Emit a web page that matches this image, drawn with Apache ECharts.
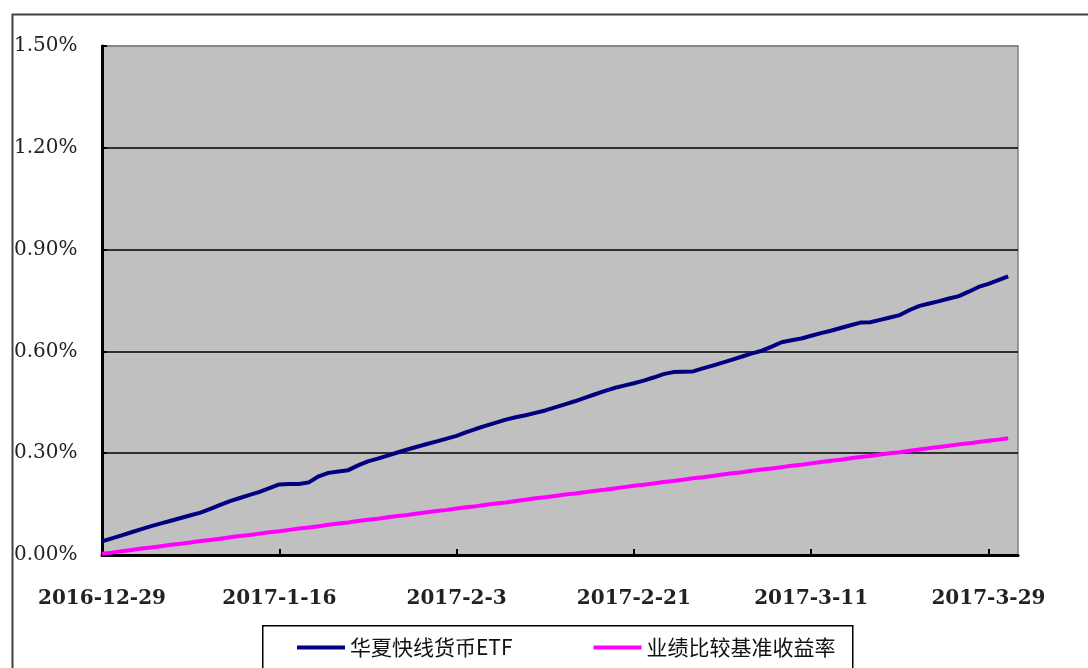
<!DOCTYPE html>
<html>
<head>
<meta charset="utf-8">
<script src="https://cdn.jsdelivr.net/npm/echarts@6/dist/echarts.min.js"></script>
<style>
html,body{margin:0;padding:0;background:#fff;}
#c{width:1088px;height:668px;}
</style>
</head>
<body>
<div id="c"></div>
<script>
// Dates on the category axis (daily), 2016-12-29 .. 2017-4-1
var categories = [
"2016-12-29","2016-12-30","2016-12-31",
"2017-1-1","2017-1-2","2017-1-3","2017-1-4","2017-1-5","2017-1-6","2017-1-7","2017-1-8","2017-1-9","2017-1-10",
"2017-1-11","2017-1-12","2017-1-13","2017-1-14","2017-1-15","2017-1-16","2017-1-17","2017-1-18","2017-1-19","2017-1-20",
"2017-1-21","2017-1-22","2017-1-23","2017-1-24","2017-1-25","2017-1-26","2017-1-27","2017-1-28","2017-1-29","2017-1-30","2017-1-31",
"2017-2-1","2017-2-2","2017-2-3","2017-2-4","2017-2-5","2017-2-6","2017-2-7","2017-2-8","2017-2-9","2017-2-10",
"2017-2-11","2017-2-12","2017-2-13","2017-2-14","2017-2-15","2017-2-16","2017-2-17","2017-2-18","2017-2-19","2017-2-20",
"2017-2-21","2017-2-22","2017-2-23","2017-2-24","2017-2-25","2017-2-26","2017-2-27","2017-2-28",
"2017-3-1","2017-3-2","2017-3-3","2017-3-4","2017-3-5","2017-3-6","2017-3-7","2017-3-8","2017-3-9","2017-3-10",
"2017-3-11","2017-3-12","2017-3-13","2017-3-14","2017-3-15","2017-3-16","2017-3-17","2017-3-18","2017-3-19","2017-3-20",
"2017-3-21","2017-3-22","2017-3-23","2017-3-24","2017-3-25","2017-3-26","2017-3-27","2017-3-28","2017-3-29","2017-3-30","2017-3-31",
"2017-4-1"
];

// Series names
var seriesNames = ["华夏快线货币ETF", "业绩比较基准收益率"];

// Cumulative return of the fund (%), 2016-12-29 .. 2017-3-31
var fundReturn = [
0.040,0.049,0.058,0.067,0.076,0.085,0.093,0.101,0.109,0.117,
0.125,0.136,0.148,0.159,0.168,0.177,0.186,0.197,0.208,0.209,
0.209,0.214,0.232,0.242,0.246,0.250,0.264,0.276,0.284,0.293,
0.302,0.311,0.319,0.327,0.335,0.343,0.351,0.362,0.372,0.381,
0.390,0.399,0.406,0.412,0.419,0.426,0.435,0.444,0.453,0.463,
0.473,0.483,0.492,0.499,0.506,0.514,0.523,0.533,0.539,0.540,
0.541,0.550,0.558,0.567,0.576,0.585,0.594,0.602,0.614,0.627,
0.633,0.638,0.646,0.654,0.661,0.669,0.677,0.685,0.686,0.693,
0.700,0.707,0.722,0.734,0.741,0.748,0.756,0.763,0.776,0.790,
0.799,0.810,0.821
];

// Cumulative benchmark return (%), 2016-12-29 .. 2017-3-31
var benchReturn = [
0.004,0.007,0.011,0.015,0.019,0.022,0.026,0.030,0.033,0.037,
0.041,0.044,0.048,0.052,0.056,0.059,0.063,0.067,0.070,0.074,
0.078,0.081,0.085,0.089,0.093,0.096,0.100,0.104,0.107,0.111,
0.115,0.118,0.122,0.126,0.130,0.133,0.137,0.141,0.144,0.148,
0.152,0.155,0.159,0.163,0.167,0.170,0.174,0.178,0.181,0.185,
0.189,0.192,0.196,0.200,0.204,0.207,0.211,0.215,0.218,0.222,
0.226,0.229,0.233,0.237,0.241,0.244,0.248,0.252,0.255,0.259,
0.263,0.266,0.270,0.274,0.278,0.281,0.285,0.289,0.292,0.296,
0.300,0.303,0.307,0.311,0.315,0.318,0.322,0.326,0.329,0.333,
0.337,0.340,0.344
];

// Y axis range (%)
var yMin = 0, yMax = 1.5, yStep = 0.3;

var chart = echarts.init(document.getElementById('c'), null, {renderer: 'canvas'});
chart.setOption({
  backgroundColor: '#ffffff',
  animation: false,
  graphic: [
    {type: 'rect', left: 10, top: 12, shape: {x: 0, y: 0, width: 1100, height: 700},
     style: {fill: 'none', stroke: '#404040', lineWidth: 2}, z: -10},
    {type: 'rect', left: 262, top: 625, shape: {x: 0, y: 0, width: 590, height: 60},
     style: {fill: '#ffffff', stroke: '#000000', lineWidth: 1.5}, z: -5}
  ],
  grid: {
    left: 102, top: 46, right: 70, bottom: 113,
    show: true, backgroundColor: '#c0c0c0', borderColor: '#808080', borderWidth: 1.5
  },
  legend: {
    left: 292, top: 632,
    icon: 'rect', itemWidth: 48, itemHeight: 4, itemGap: 81, itemTextGap: 3,
    textStyle: {fontFamily: 'Noto Sans CJK SC', fontSize: 21, color: '#111'},
    data: seriesNames
  },
  xAxis: {
    type: 'category',
    data: categories,
    boundaryGap: false,
    axisLine: {lineStyle: {color: '#000', width: 3}},
    axisTick: {inside: true, length: 6, interval: 17, lineStyle: {color: '#000', width: 2}},
    axisLabel: {interval: 17, margin: 34, color: '#222',
      fontFamily: 'DejaVu Serif', fontSize: 20, fontWeight: 'bold'},
    splitLine: {show: false}
  },
  yAxis: {
    type: 'value',
    min: yMin, max: yMax, interval: yStep,
    axisLine: {show: true, lineStyle: {color: '#000', width: 3}},
    axisTick: {show: true, inside: true, length: 5, lineStyle: {color: '#000', width: 2}},
    axisLabel: {align: 'left', margin: 88, color: '#222',
      fontFamily: 'DejaVu Serif', fontSize: 20,
      formatter: function (v) { return v.toFixed(2) + '%'; }},
    splitLine: {show: true, lineStyle: {color: ['#000','#000','#000','#000','#000','#808080'], width: 1.5}}
  },
  series: [
    {name: seriesNames[0], type: 'line', data: fundReturn, showSymbol: false,
     lineStyle: {color: '#000080', width: 4}, itemStyle: {color: '#000080'}},
    {name: seriesNames[1], type: 'line', data: benchReturn, showSymbol: false,
     lineStyle: {color: '#ff00ff', width: 4}, itemStyle: {color: '#ff00ff'}}
  ]
});
</script>
</body>
</html>
